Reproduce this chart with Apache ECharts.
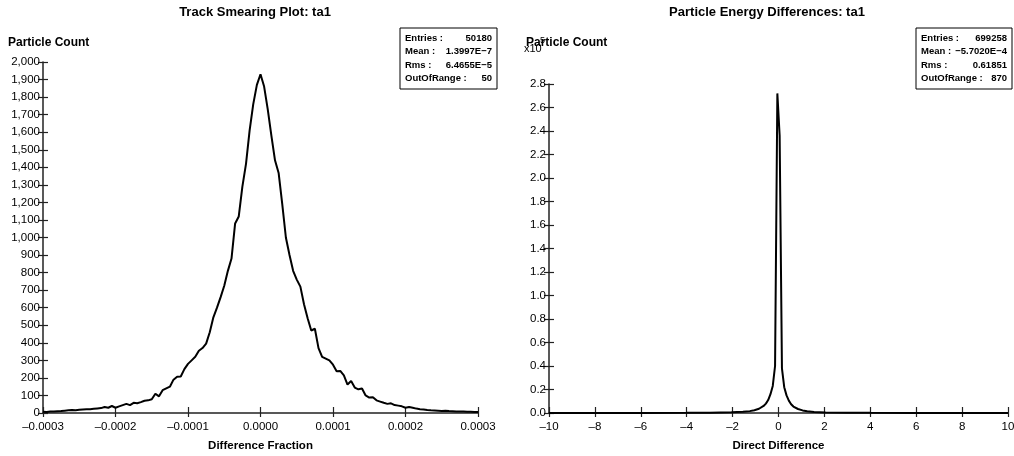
<!DOCTYPE html>
<html>
<head>
<meta charset="utf-8">
<script src="https://cdn.jsdelivr.net/npm/echarts@6/dist/echarts.min.js"></script>
<style>
  html, body { margin: 0; padding: 0; background: #fff; }
  #chart { width: 1014px; height: 456px; }
</style>
</head>
<body>
<div id="chart"></div>
<script>
// Left panel: track smearing histogram (bin centres in units of 1e-6)
const smearX = [
  -300, -295, -290, -285, -280, -275, -270, -265, -260, -255, -250, -245, -240, -235, -230, -225,
  -220, -215, -210, -205, -200, -195, -190, -185, -180, -175, -170, -165, -160, -155, -150, -145,
  -140, -135, -130, -125, -120, -115, -110, -105, -100, -95, -90, -85, -80, -75, -70, -65,
  -60, -55, -50, -45, -40, -35, -30, -25, -20, -15, -10, -5, 0, 5,
  10, 15, 20, 25, 30, 35, 40, 45, 50, 55, 60, 65, 70, 75, 80, 85,
  90, 95, 100, 105, 110, 115, 120, 125, 130, 135, 140, 145, 150, 155, 160, 165,
  170, 175, 180, 185, 190, 195, 200, 205, 210, 215, 220, 225, 230, 235, 240, 245,
  250, 255, 260, 265, 270, 275, 280, 285, 290, 295, 300
];
const smearCount = [
  7, 6, 8, 9, 10, 11, 13, 15, 17, 16, 18, 20, 21, 22, 24, 26,
  28, 34, 30, 40, 30, 38, 45, 52, 45, 58, 56, 62, 70, 72, 78, 110,
  95, 130, 140, 150, 190, 207, 208, 250, 280, 300, 320, 355, 370, 395, 460, 545,
  600, 660, 725, 810, 880, 1080, 1120, 1290, 1420, 1610, 1760, 1870, 1930, 1860,
  1730, 1580, 1440, 1368, 1190, 1000, 900, 810, 760, 720, 620, 540, 470, 480, 370, 320,
  310, 300, 275, 238, 240, 215, 162, 182, 145, 135, 140, 100, 88, 90, 72, 65,
  58, 52, 55, 45, 42, 38, 30, 34, 30, 25, 22, 20, 17, 15, 14, 13,
  12, 13, 11, 10, 9, 8, 8, 7, 7, 6, 6
];

// Right panel: energy differences (counts in units of 1e5)
const diffX = [
  -10, -6, -4, -3, -2.05, -1.55, -1.25, -1.05, -0.85, -0.65, -0.55, -0.45, -0.35, -0.25, -0.15, -0.05,
  0.05, 0.15, 0.25, 0.35, 0.45, 0.55, 0.65, 0.85, 1.05, 1.25, 1.55, 2.05, 3, 4, 6, 10
];
const diffCount = [
  0.0005, 0.001, 0.002, 0.003, 0.006, 0.01, 0.016, 0.024, 0.036, 0.06, 0.08, 0.11, 0.16, 0.23, 0.40, 2.72,
  2.36, 0.38, 0.22, 0.15, 0.105, 0.075, 0.055, 0.034, 0.022, 0.015, 0.009, 0.005, 0.003, 0.002, 0.001, 0.0005
];

const leftStats = [["Entries :", "50180"], ["Mean :", "1.3997E\u22127"], ["Rms :", "6.4655E\u22125"], ["OutOfRange :", "50"]];
const rightStats = [["Entries :", "699258"], ["Mean :", "\u22125.7020E\u22124"], ["Rms :", "0.61851"], ["OutOfRange :", "870"]];

const FONT = "'Liberation Sans', Arial, sans-serif";
const INK = "#000";

function dash(s) {
  return String(s).replace("-", "\u2013");
}

function statsBox(x, w, rows) {
  const kids = [{
    type: "rect",
    shape: { x: 0, y: 0, width: w, height: 61 },
    style: { fill: "#fff", stroke: "#000", lineWidth: 1 }
  }];
  rows.forEach((r, i) => {
    const y = 10 + i * 13.5;
    kids.push({ type: "text", x: 5, y: y, style: { text: r[0], font: "bold 9.5px " + FONT, fill: INK, verticalAlign: "middle" } });
    kids.push({ type: "text", x: w - 5, y: y, style: { text: r[1], font: "bold 9.5px " + FONT, fill: INK, align: "right", verticalAlign: "middle" } });
  });
  return { type: "group", x: x, y: 28, children: kids };
}

function mainX(grid, min, max, interval, name, fmt) {
  return {
    type: "value", gridIndex: grid, position: "bottom", min, max, interval,
    name, nameLocation: "middle", nameGap: 27,
    nameTextStyle: { fontFamily: FONT, fontWeight: "bold", fontSize: 11.5, color: INK },
    axisLine: { show: true, onZero: false, lineStyle: { color: "#222", width: 1.5 } },
    axisTick: { show: true, length: 4, lineStyle: { color: "#222", width: 1.2 } },
    axisLabel: { fontFamily: FONT, fontSize: 11.5, color: INK, margin: 8, formatter: fmt },
    splitLine: { show: false }
  };
}
function innerX(grid, min, max, interval) {
  return {
    type: "value", gridIndex: grid, position: "bottom", min, max, interval,
    axisLine: { show: false, onZero: false }, axisLabel: { show: false }, splitLine: { show: false },
    axisTick: { show: true, inside: true, length: 6, lineStyle: { color: "#222", width: 1.2 } }
  };
}
function mainY(grid, min, max, interval, fmt) {
  return {
    type: "value", gridIndex: grid, position: "left", min, max, interval,
    axisLine: { show: true, onZero: false, lineStyle: { color: "#222", width: 1.5 } },
    axisTick: { show: true, length: 5, lineStyle: { color: "#222", width: 1.2 } },
    axisLabel: { fontFamily: FONT, fontSize: 11.5, color: INK, margin: 3, formatter: fmt },
    splitLine: { show: false }
  };
}
function innerY(grid, min, max, interval) {
  return {
    type: "value", gridIndex: grid, position: "left", min, max, interval,
    axisLine: { show: false, onZero: false }, axisLabel: { show: false }, splitLine: { show: false },
    axisTick: { show: true, inside: true, length: 5, lineStyle: { color: "#222", width: 1.2 } }
  };
}

const chart = echarts.init(document.getElementById("chart"));
chart.setOption({
  animation: false,
  backgroundColor: "#fff",
  title: [
    { text: "Track Smearing Plot: ta1", left: 250, textAlign: "center", top: 1,
      textStyle: { fontFamily: FONT, fontSize: 13, fontWeight: "bold", color: INK } },
    { text: "Particle Energy Differences: ta1", left: 762, textAlign: "center", top: 1,
      textStyle: { fontFamily: FONT, fontSize: 13, fontWeight: "bold", color: INK } }
  ],
  grid: [
    { left: 43, top: 62, width: 435, height: 351, outerBoundsMode: "none" },
    { left: 549, top: 84, width: 459, height: 329, outerBoundsMode: "none" }
  ],
  xAxis: [
    mainX(0, -0.0003, 0.0003, 0.0001, "Difference Fraction", v => dash(v.toFixed(4))),
    innerX(0, -0.0003, 0.0003, 0.0001),
    mainX(1, -10, 10, 2, "Direct Difference", v => dash(v)),
    innerX(1, -10, 10, 2)
  ],
  yAxis: [
    mainY(0, 0, 2000, 100, v => v.toLocaleString("en-US")),
    innerY(0, 0, 2000, 100),
    mainY(1, 0, 2.8, 0.2, v => v.toFixed(1)),
    innerY(1, 0, 2.8, 0.2)
  ],
  series: [
    {
      type: "line", xAxisIndex: 0, yAxisIndex: 0, symbol: "none",
      lineStyle: { color: INK, width: 2 },
      data: smearX.map((x, i) => [x * 1e-6, smearCount[i]])
    },
    {
      type: "line", xAxisIndex: 2, yAxisIndex: 2, symbol: "none",
      lineStyle: { color: INK, width: 2 },
      data: diffX.map((x, i) => [x, diffCount[i]])
    }
  ],
  graphic: [
    { type: "text", x: 8, y: 43, style: { text: "Particle Count", font: "bold 12px " + FONT, fill: INK, verticalAlign: "middle" } },
    { type: "text", x: 526, y: 43, style: { text: "Particle Count", font: "bold 12px " + FONT, fill: INK, verticalAlign: "middle" } },
    { type: "text", x: 524, y: 49, style: { text: "x10", font: "11px " + FONT, fill: INK, verticalAlign: "middle" } },
    { type: "text", x: 540, y: 41, style: { text: "5", font: "9px " + FONT, fill: INK, verticalAlign: "middle" } },
    statsBox(400, 97, leftStats),
    statsBox(916, 96, rightStats)
  ]
});
</script>
</body>
</html>
